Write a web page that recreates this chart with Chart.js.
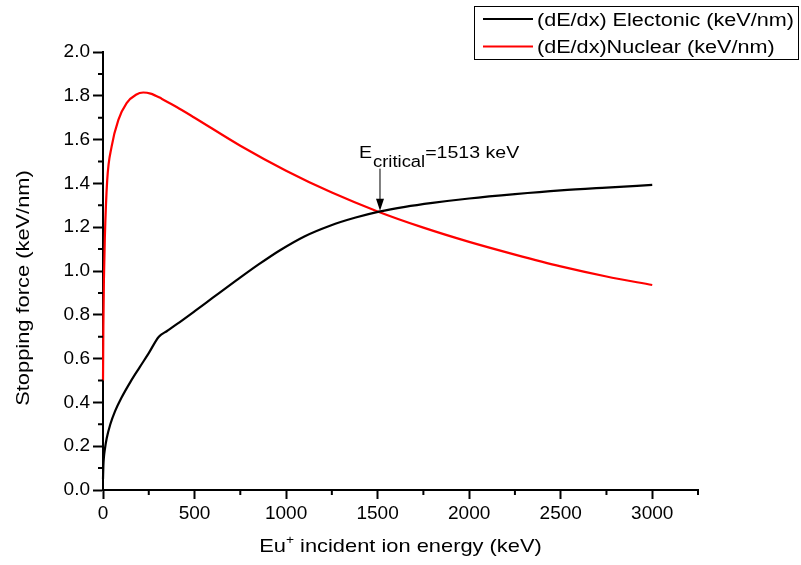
<!DOCTYPE html>
<html>
<head>
<meta charset="utf-8">
<title>Stopping force vs Eu+ energy</title>
<script src="https://cdn.jsdelivr.net/npm/chart.js@4.4.0/dist/chart.umd.min.js"></script>
<style>
  html, body { margin: 0; padding: 0; background: #fff; }
  #wrap { width: 801px; height: 565px; }
</style>
</head>
<body>
<div id="wrap"><canvas id="stopChart" width="801" height="565"></canvas></div>
<script>
// electronic stopping (black)
const elecEnergy = [0, 2, 5, 10, 20, 40, 66, 100, 150, 200, 250, 305, 350, 403, 503, 600, 730, 850, 967, 1100, 1240, 1380, 1508, 1650, 1800, 2000, 2250, 2500, 2750, 3000];
const elecForce  = [0.05, 0.11, 0.15, 0.185, 0.235, 0.30, 0.36, 0.42, 0.494, 0.56, 0.625, 0.70, 0.726, 0.757, 0.818, 0.878, 0.958, 1.03, 1.095, 1.158, 1.207, 1.244, 1.271, 1.293, 1.311, 1.331, 1.351, 1.368, 1.381, 1.393];

// nuclear stopping (red)
const nuclEnergy = [0, 1, 2, 5, 10, 23, 47, 84, 129, 180, 220, 260, 320, 400, 500, 750, 1000, 1250, 1500, 1750, 2000, 2250, 2500, 2750, 3000];
const nuclForce  = [0.50, 0.62, 0.75, 0.96, 1.15, 1.415, 1.568, 1.69, 1.767, 1.805, 1.815, 1.810, 1.787, 1.75, 1.70, 1.572, 1.458, 1.358, 1.272, 1.198, 1.133, 1.075, 1.021, 0.975, 0.936];

const xTickValues = [0, 500, 1000, 1500, 2000, 2500, 3000];
const xMinorValues = [250, 750, 1250, 1750, 2250, 2750, 3250];
const yTickValues = [0, 0.2, 0.4, 0.6, 0.8, 1.0, 1.2, 1.4, 1.6, 1.8, 2.0];
const yMinorValues = [0.1, 0.3, 0.5, 0.7, 0.9, 1.1, 1.3, 1.5, 1.7, 1.9];

const legendLabels = ['(dE/dx) Electonic (keV/nm)', '(dE/dx)Nuclear (keV/nm)'];
const criticalEnergy = 1513;
const criticalForce = 1.271;

const FONT = '"Liberation Sans", Arial, sans-serif';

function toPoints(xs, ys) {
  return xs.map((x, i) => ({ x: x, y: ys[i] }));
}

// stretched text like the original export
function wideText(ctx, text, x, y, size, stretch, align) {
  ctx.save();
  ctx.font = size + 'px ' + FONT;
  ctx.textBaseline = 'alphabetic';
  const w = ctx.measureText(text).width * stretch;
  let x0 = x;
  if (align === 'center') x0 = x - w / 2;
  ctx.translate(x0, y);
  ctx.scale(stretch, 1);
  ctx.textAlign = 'left';
  ctx.fillText(text, 0, 0);
  ctx.restore();
  return w;
}

function textWidth(ctx, text, size, stretch) {
  ctx.save();
  ctx.font = size + 'px ' + FONT;
  const w = ctx.measureText(text).width * stretch;
  ctx.restore();
  return w;
}

const decorPlugin = {
  id: 'decor',
  afterDraw(chart) {
    const ctx = chart.ctx;
    const xs = chart.scales.x;
    const ys = chart.scales.y;
    const area = chart.chartArea;
    ctx.save();
    ctx.strokeStyle = '#000';
    ctx.fillStyle = '#000';
    ctx.lineWidth = 2;

    // minor ticks
    ctx.beginPath();
    xMinorValues.forEach(v => {
      const px = xs.getPixelForValue(v);
      ctx.moveTo(px, area.bottom);
      ctx.lineTo(px, area.bottom + 5);
    });
    yMinorValues.forEach(v => {
      const py = ys.getPixelForValue(v);
      ctx.moveTo(area.left, py);
      ctx.lineTo(area.left - 5, py);
    });
    ctx.stroke();

    // axis titles
    const w1 = textWidth(ctx, 'Eu', 19, 1.15);
    const w2 = textWidth(ctx, '+', 12, 1.15);
    const w3 = textWidth(ctx, ' incident ion energy (keV)', 19, 1.15);
    const sx = (area.left + area.right) / 2 - (w1 + w2 + w3) / 2;
    const by = 552;
    wideText(ctx, 'Eu', sx, by, 19, 1.15);
    wideText(ctx, '+', sx + w1, by - 8, 12, 1.15);
    wideText(ctx, ' incident ion energy (keV)', sx + w1 + w2, by, 19, 1.15);

    ctx.save();
    ctx.translate(29, 288);
    ctx.rotate(-Math.PI / 2);
    wideText(ctx, 'Stopping force (keV/nm)', 0, 0, 19, 1.15, 'center');
    ctx.restore();

    // annotation arrow at the crossing
    const ax = xs.getPixelForValue(criticalEnergy);
    const ay = ys.getPixelForValue(criticalForce);
    ctx.lineWidth = 1;
    ctx.beginPath();
    ctx.moveTo(ax, ay - 43);
    ctx.lineTo(ax, ay - 10);
    ctx.stroke();
    ctx.beginPath();
    ctx.moveTo(ax, ay - 1);
    ctx.lineTo(ax - 4, ay - 13);
    ctx.lineTo(ax + 4, ay - 13);
    ctx.closePath();
    ctx.fill();

    const ex = ax - 21;
    const eb = ay - 54;
    const we = wideText(ctx, 'E', ex, eb, 17, 1.15);
    const wc = wideText(ctx, 'critical', ex + we + 1, eb + 9, 16, 1.15);
    wideText(ctx, '=1513 keV', ex + we + wc + 1, eb, 17, 1.15);

    // legend box
    const lx = 474, ly = 6, lw = 324, lh = 53;
    ctx.fillStyle = '#fff';
    ctx.fillRect(lx, ly, lw, lh);
    ctx.lineWidth = 1;
    ctx.strokeStyle = '#000';
    ctx.strokeRect(lx + 0.5, ly + 0.5, lw, lh);
    const rows = [19, 46.5];
    chart.data.datasets.forEach((ds, i) => {
      ctx.strokeStyle = ds.borderColor;
      ctx.lineWidth = 2;
      ctx.beginPath();
      ctx.moveTo(483, rows[i]);
      ctx.lineTo(533, rows[i]);
      ctx.stroke();
      ctx.fillStyle = '#000';
      wideText(ctx, legendLabels[i], 537, rows[i] + 6.5, 18, 1.2);
    });
    ctx.restore();
  }
};

const ctx = document.getElementById('stopChart').getContext('2d');
const chart = new Chart(ctx, {
  type: 'line',
  data: {
    datasets: [{
      label: legendLabels[0],
      data: toPoints(elecEnergy, elecForce),
      borderColor: '#000000',
      borderWidth: 2.2,
      pointRadius: 0,
      cubicInterpolationMode: 'monotone',
      fill: false,
      clip: 4,
    }, {
      label: legendLabels[1],
      data: toPoints(nuclEnergy, nuclForce),
      borderColor: '#ff0000',
      borderWidth: 2.2,
      pointRadius: 0,
      cubicInterpolationMode: 'monotone',
      fill: false,
      clip: 4,
    }],
  },
  options: {
    responsive: false,
    animation: false,
    layout: { padding: { top: 52, right: 103, left: 0, bottom: 0 } },
    plugins: {
      legend: { display: false },
      tooltip: { enabled: false },
    },
    scales: {
      x: {
        type: 'linear',
        min: 0,
        max: 3250,
        afterFit: s => { s.height = 75; },
        afterBuildTicks: s => { s.ticks = xTickValues.map(v => ({ value: v })); },
        ticks: {
          color: '#000',
          font: { family: FONT, size: 19 },
          padding: 3,
          maxRotation: 0,
          callback: v => String(v),
        },
        grid: { drawOnChartArea: false, tickLength: 9, tickColor: '#000', tickWidth: 2 },
        border: { color: '#000', width: 2 },
      },
      y: {
        type: 'linear',
        min: 0,
        max: 2.0,
        afterFit: s => { s.width = 103; },
        afterBuildTicks: s => { s.ticks = yTickValues.map(v => ({ value: v })); },
        ticks: {
          color: '#000',
          font: { family: FONT, size: 19 },
          padding: 3,
          callback: v => Number(v).toFixed(1),
        },
        grid: { drawOnChartArea: false, tickLength: 10, tickColor: '#000', tickWidth: 2 },
        border: { color: '#000', width: 2 },
      },
    },
  },
  plugins: [decorPlugin],
});
</script>
</body>
</html>
